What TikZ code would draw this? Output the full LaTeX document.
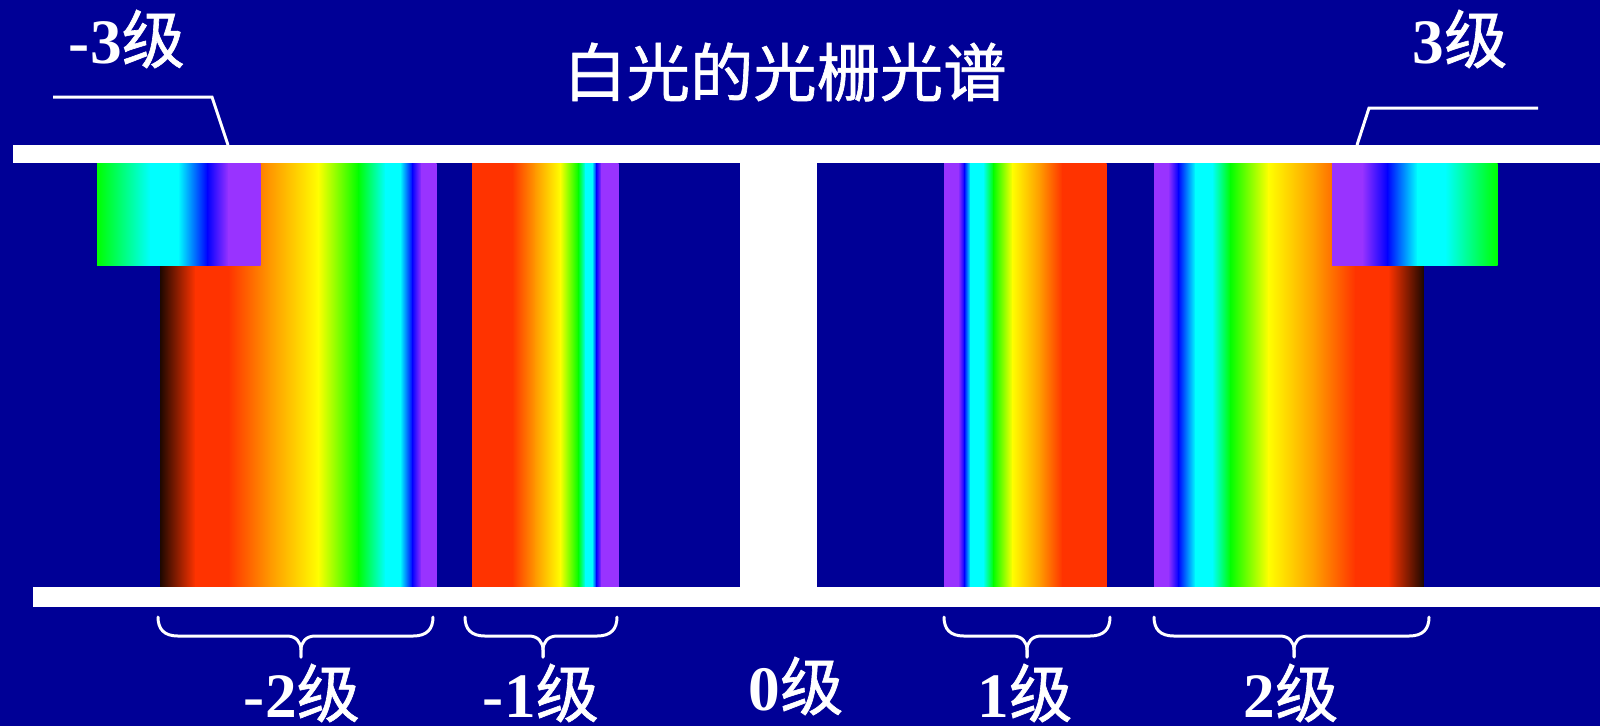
\documentclass[tikz,border=0pt]{standalone}
\usepackage{fontspec}
\setmainfont{Liberation Serif}
\newfontfamily\cjk{Noto Sans CJK SC}
\newfontfamily\cjkb{Noto Sans CJK SC}[FakeBold=1]
\definecolor{bgblue}{RGB}{0,0,150}
\definecolor{sRed}{RGB}{255,51,0}
\definecolor{sOrange}{RGB}{255,153,0}
\definecolor{sYellow}{RGB}{255,255,0}
\definecolor{sGreen}{RGB}{0,255,0}
\definecolor{sCyan}{RGB}{0,255,255}
\definecolor{sBlue}{RGB}{0,0,255}
\definecolor{sPurple}{RGB}{153,51,255}
\definecolor{sDark}{RGB}{30,8,0}
\tikzset{
  bar/.style={fill=white},
  leader/.style={draw=white, line width=0.85pt},
  bracestyle/.style={draw=white, line width=0.85pt, line cap=round, line join=round},
  lbl/.style={text=white, inner sep=0pt, font=\fontsize{18pt}{21pt}\selectfont},
  ttl/.style={text=white, inner sep=0pt, font=\cjkb\fontsize{18pt}{22pt}\selectfont},
}
% one spectrum band: top y, bottom y, list of x/colour stops
\newcommand\band[3]{%
  \foreach \xx/\cc [count=\i, remember=\xx as \px, remember=\cc as \pc] in {#3} {%
    \ifnum\i>1 \shade[left color=\pc, right color=\cc] (\px,#1) rectangle (\xx+0.6,#2);\fi
  }%
}
% curly brace under an order: name, left x, right x, tip x
\newcommand\orderbrace[4]{%
  \coordinate (#1-l) at (#2,617);
  \coordinate (#1-r) at (#3,617);
  \coordinate (#1-tip) at (#4,657);
  \draw[bracestyle] (#1-l) .. controls (#2,629) and (#2+6,636) .. (#2+20,636) -- (#4-14,636)
    .. controls (#4-5,636) and (#4,642) .. (#4,650) -- (#1-tip);
  \draw[bracestyle] (#1-tip) -- (#4,650) .. controls (#4,642) and (#4+5,636) .. (#4+14,636)
    -- (#3-20,636) .. controls (#3-6,636) and (#3,629) .. (#1-r);
}
\newcommand\ord[1]{{\bfseries #1}{\cjkb 级}}
\begin{document}
\begin{tikzpicture}[x=0.01cm, y=-0.01cm]
\useasboundingbox (0,0) rectangle (1600,726);
\fill[bgblue] (0,0) rectangle (1600,726);

% order -2
\band{163}{587}{160/sDark, 195/sRed, 228/sRed, 270/sOrange, 318/sYellow, 358/sGreen, 385/sCyan, 400/sCyan, 412/sBlue, 421/sPurple, 436/sPurple}
% order -3 (overlapping)
\band{163}{265}{97/sGreen, 150/sCyan, 178/sCyan, 207/sBlue, 228/sPurple, 260/sPurple}
% order -1
\band{163}{587}{472/sRed, 512/sRed, 535/sOrange, 560/sYellow, 578/sGreen, 585/sCyan, 592/sCyan, 596/sBlue, 601/sPurple, 618/sPurple}
% order 1
\band{163}{587}{944/sPurple, 958/sPurple, 964/sBlue, 970/sCyan, 983/sCyan, 993/sGreen, 1012/sYellow, 1040/sOrange, 1062/sRed, 1106/sRed}
% order 2
\band{163}{587}{1154/sPurple, 1168/sPurple, 1178/sBlue, 1195/sCyan, 1212/sCyan, 1230/sGreen, 1268/sYellow, 1316/sOrange, 1355/sRed, 1388/sRed, 1423/sDark}
% order 3 (overlapping)
\band{163}{265}{1332/sPurple, 1362/sPurple, 1387/sBlue, 1417/sCyan, 1445/sCyan, 1497/sGreen}

% screen edges and the central zero order
\fill[bar] (13,145) rectangle (1600,163);
\fill[bar] (33,587) rectangle (1600,607);
\fill[bar] (740,163) rectangle (817,587);

% title
\node[ttl] (title) at (785,72) {白光的光栅光谱};

% third-order labels with leader lines
\node[lbl, anchor=base] (m3) at (127,63) {\ord{-3}};
\node[lbl, anchor=base] (p3) at (1460,63) {\ord{3}};
\coordinate (m3a) at (53,97);
\coordinate (m3b) at (212,97);
\coordinate (m3c) at (228,145);
\draw[leader] (m3a) -- (m3b) -- (m3c);
\coordinate (p3a) at (1538,108);
\coordinate (p3b) at (1369,108);
\coordinate (p3c) at (1357,145);
\draw[leader] (p3a) -- (p3b) -- (p3c);

% braces below the screen
\orderbrace{bm2}{158}{433}{301}
\orderbrace{bm1}{465}{617}{543}
\orderbrace{bp1}{944}{1110}{1027}
\orderbrace{bp2}{1154}{1429}{1294}

% lower labels
\node[lbl, anchor=base] (m2) at (302,717) {\ord{-2}};
\node[lbl, anchor=base] (m1) at (541,717) {\ord{-1}};
\node[lbl, anchor=base] (z0) at (796,710) {\ord{0}};
\node[lbl, anchor=base] (p1) at (1025,717) {\ord{1}};
\node[lbl, anchor=base] (p2) at (1291,717) {\ord{2}};
\end{tikzpicture}
\end{document}
